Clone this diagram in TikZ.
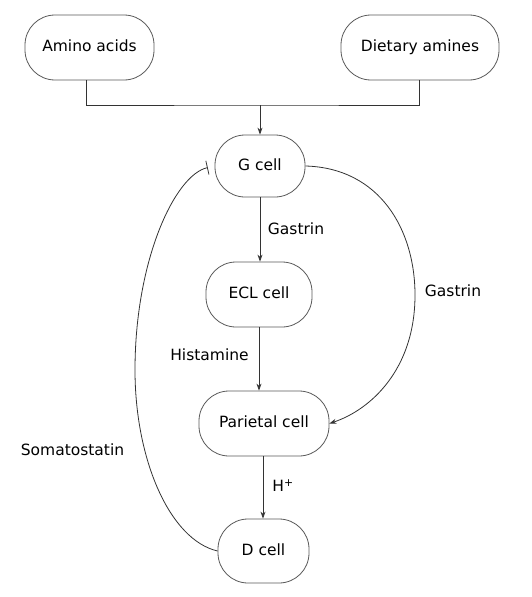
\documentclass[tikz,border=0pt]{standalone}
\usepackage{fontspec}
\setmainfont{DejaVu Sans}
\usetikzlibrary{arrows.meta}
\begin{document}
\begin{tikzpicture}[x=1pt,y=-1pt,
  font=\fontsize{15.5}{18}\selectfont,
  box/.style={draw=black!65, line width=0.8pt, rounded corners=30pt, minimum height=65pt, inner sep=0pt, text height=11.5pt, text depth=3pt},
  conn/.style={draw=black!80, line width=0.8pt},
  arr/.style={conn,-{Stealth[length=7pt,width=5pt]}},
  lbl/.style={inner sep=0pt, text height=11.5pt, text depth=3pt}]
\useasboundingbox (0,0) rectangle (531,597);
\node[box, minimum width=129pt] (amino) at (89.5,47.5) {Amino acids};
\node[box, minimum width=158pt] (diet) at (420,47.5) {Dietary amines};
\node[box, minimum width=90pt, minimum height=62pt] (g) at (260,166) {G cell};
\node[box, minimum width=106pt] (ecl) at (259,294.5) {ECL cell};
\node[box, minimum width=130pt] (par) at (264,423.5) {Parietal cell};
\node[box, minimum width=91pt, minimum height=64pt] (d) at (263.5,551) {D cell};
\coordinate (j) at (260,105);
\draw[conn] ([xshift=-3pt]amino.south) |- (j) -| ([xshift=-1pt]diet.south);
\draw[arr] (j) -- (g.north);
\draw[arr] (g.south) -- (g.south |- ecl.north);
\draw[arr] (ecl.south) -- (ecl.south |- par.north);
\draw[arr] ([xshift=-1pt]par.south) -- ([xshift=-1pt]par.south |- d.north);
\draw[arr] (g.east) .. controls (380,168) and (415,230) .. (415,295) .. controls (415,370) and (370,410) .. (par.east);
\draw[conn, -{Bar[width=14pt]}, shorten >=7pt] (d.west) .. controls (170,540) and (135,460) .. (135,370) .. controls (135,260) and (175,175) .. (g.west);
\node[lbl] (lg1) at (296,230) {Gastrin};
\node[lbl] (lhis) at (209.5,356) {Histamine};
\node[lbl] (lg2) at (453,292) {Gastrin};
\node[lbl] (lsom) at (72.5,451) {Somatostatin};
\node[lbl] (lh) at (283,487) {H\textsuperscript{+}};
\end{tikzpicture}
\end{document}
